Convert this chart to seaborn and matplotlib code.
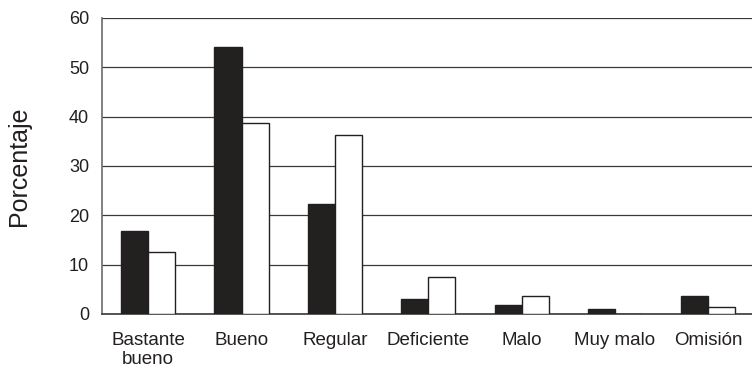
import matplotlib
matplotlib.use("Agg")
import matplotlib.pyplot as plt
import seaborn as sns
import pandas as pd
import numpy as np

categories = ["Bastante\nbueno", "Bueno", "Regular", "Deficiente", "Malo", "Muy malo", "Omisión"]
serie_a = [16.8, 54.2, 22.3, 3.1, 1.9, 0.95, 3.7]
serie_b = [12.5, 38.7, 36.3, 7.4, 3.7, 0.0, 1.5]
series_names = ["A", "B"]

df = pd.DataFrame({
    "categoria": categories * 2,
    "valor": serie_a + serie_b,
    "serie": [series_names[0]] * len(categories) + [series_names[1]] * len(categories),
})

sns.set_theme(style="white")
plt.rcParams["font.family"] = ["Liberation Sans", "DejaVu Sans"]

W, H = 752, 374
fig = plt.figure(figsize=(W / 100, H / 100), dpi=100)
ax = fig.add_axes([101.5 / W, (H - 314) / H, (755 - 101.5) / W, 296 / H])

sns.barplot(
    data=df, x="categoria", y="valor", hue="serie", order=categories,
    hue_order=series_names, palette=["#231f20", "#ffffff"], width=0.58,
    edgecolor="#231f20", linewidth=1.0, legend=False, ax=ax, zorder=3,
)

ax.set_xlim(-0.5, len(categories) - 0.5)
ax.set_ylim(0, 60)
ax.set_yticks(np.arange(0, 61, 10))
ax.yaxis.grid(True, color="#3a3a3a", linewidth=0.9, zorder=0)
ax.xaxis.grid(False)

for s in ["top", "right"]:
    ax.spines[s].set_visible(False)
ax.spines["left"].set_color("#6b6b6b")
ax.spines["left"].set_linewidth(1.2)
ax.spines["bottom"].set_color("#3a3a3a")
ax.spines["bottom"].set_linewidth(1.2)

# category boundaries as outward tick marks, labels centred under each group
ax.set_xticks(np.arange(-0.5, len(categories), 1.0), minor=True)
ax.tick_params(axis="x", which="minor", length=6, width=1, color="#3a3a3a", direction="out")
ax.tick_params(axis="x", which="major", length=0, labelsize=13.5, pad=13, colors="#231f20")
for lbl in ax.get_xticklabels():
    lbl.set_linespacing(1.15)
ax.tick_params(axis="y", length=5, width=1, color="#3a3a3a", direction="out",
               labelsize=13, pad=4, colors="#231f20")

ax.set_xlabel("")
ax.set_ylabel("Porcentaje", fontsize=18, color="#231f20", labelpad=27)

fig.savefig("out.png", dpi=100)
